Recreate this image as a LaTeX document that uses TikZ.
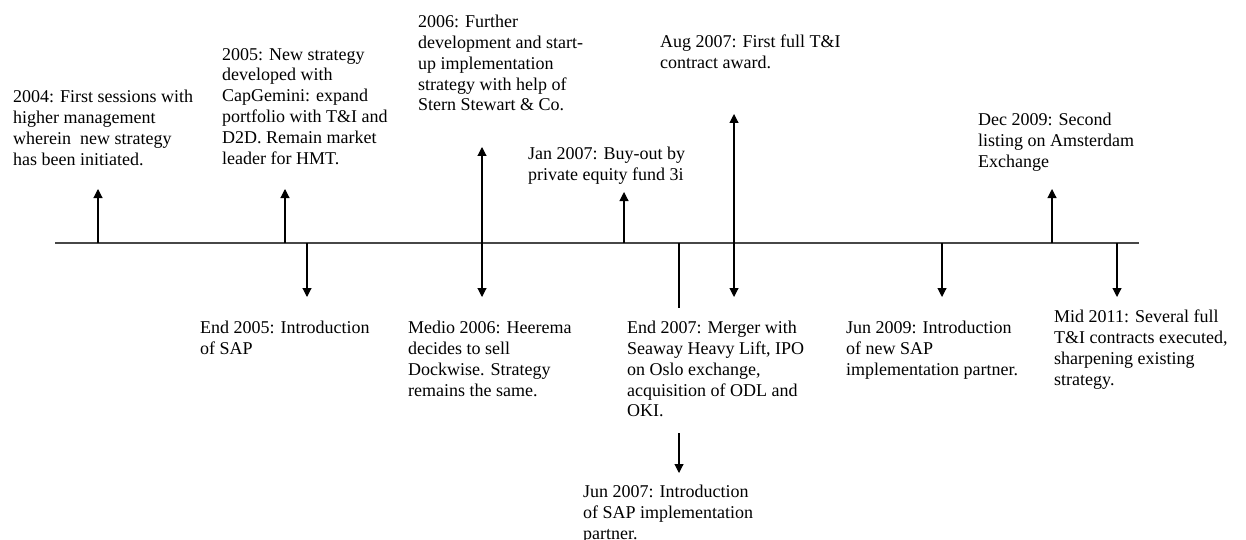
\documentclass[tikz,border=0pt]{standalone}
\usepackage{fontspec}
\setmainfont{Liberation Serif}
\usetikzlibrary{arrows.meta}
\begin{document}
\begin{tikzpicture}[x=1pt,y=-1pt,
  lbl/.style={anchor=north west,inner sep=0pt,align=left,font=\fontsize{18}{20.8}\selectfont},
  axis/.style={line width=1.2pt,draw=black!72},
  evt/.style={line width=1.1pt,-{Triangle[width=9pt,length=9pt]}},
  evtb/.style={line width=1.1pt,{Triangle[width=9pt,length=9pt]}-{Triangle[width=9pt,length=9pt]}},
  plain/.style={line width=1.1pt}]
\useasboundingbox (0,0) rectangle (1246,540);
% timeline
\coordinate (L) at (55,243);
\coordinate (R) at (1139,243);
\draw[axis] (L) -- (R);
% labels above
\node[lbl] (t2004) at (13,90) {2004: First sessions with\\higher management\\wherein\ \ new strategy\\has been initiated.};
\node[lbl] (t2005) at (222,48) {2005: New strategy\\developed with\\CapGemini: expand\\portfolio with T\&I and\\D2D. Remain market\\leader for HMT.};
\node[lbl] (t2006) at (418,15) {2006: Further\\development and start-\\up implementation\\strategy with help of\\Stern Stewart \& Co.};
\node[lbl] (tjan07) at (528,147) {Jan 2007: Buy-out by\\private equity fund 3i};
\node[lbl] (taug07) at (660,35) {Aug 2007: First full T\&I\\contract award.};
\node[lbl] (tdec09) at (978,113) {Dec 2009: Second\\listing on Amsterdam\\Exchange};
% labels below
\node[lbl] (tend05) at (200,321) {End 2005: Introduction\\of SAP};
\node[lbl] (tmed06) at (408,321) {Medio 2006: Heerema\\decides to sell\\Dockwise. Strategy\\remains the same.};
\node[lbl] (tend07) at (627,321) {End 2007: Merger with\\Seaway Heavy Lift, IPO\\on Oslo exchange,\\acquisition of ODL and\\OKI.};
\node[lbl] (tjun07) at (583,485) {Jun 2007: Introduction\\of SAP implementation\\partner.};
\node[lbl] (tjun09) at (846,321) {Jun 2009: Introduction\\of new SAP\\implementation partner.};
\node[lbl] (tmid11) at (1054,310) {Mid 2011: Several full\\T\&I contracts executed,\\sharpening existing\\strategy.};
% anchor points
\coordinate (a2004) at (98,243);   \coordinate (h2004) at (98,189);
\coordinate (a2005) at (285,243);  \coordinate (h2005) at (285,189);
\coordinate (aend05) at (307,243); \coordinate (hend05) at (307,297);
\coordinate (u2006) at (482,147);  \coordinate (d2006) at (482,297);
\coordinate (ajan07) at (624,243); \coordinate (hjan07) at (624,192);
\coordinate (aend07) at (679,243); \coordinate (bend07) at (679,308);
\coordinate (ajun07) at (679,433); \coordinate (hjun07) at (679,473);
\coordinate (uaug07) at (734,114); \coordinate (daug07) at (734,297);
\coordinate (ajun09) at (942,243); \coordinate (hjun09) at (942,297);
\coordinate (adec09) at (1052,243);\coordinate (hdec09) at (1052,189);
\coordinate (amid11) at (1117,243);\coordinate (hmid11) at (1117,297);
% arrows
\draw[evt] (a2004) -- (h2004);
\draw[evt] (a2005) -- (h2005);
\draw[evt] (aend05) -- (hend05);
\draw[evtb] (u2006) -- (d2006);
\draw[evt] (ajan07) -- (hjan07);
\draw[plain] (aend07) -- (bend07);
\draw[evt] (ajun07) -- (hjun07);
\draw[evtb] (uaug07) -- (daug07);
\draw[evt] (ajun09) -- (hjun09);
\draw[evt] (adec09) -- (hdec09);
\draw[evt] (amid11) -- (hmid11);
\end{tikzpicture}
\end{document}
